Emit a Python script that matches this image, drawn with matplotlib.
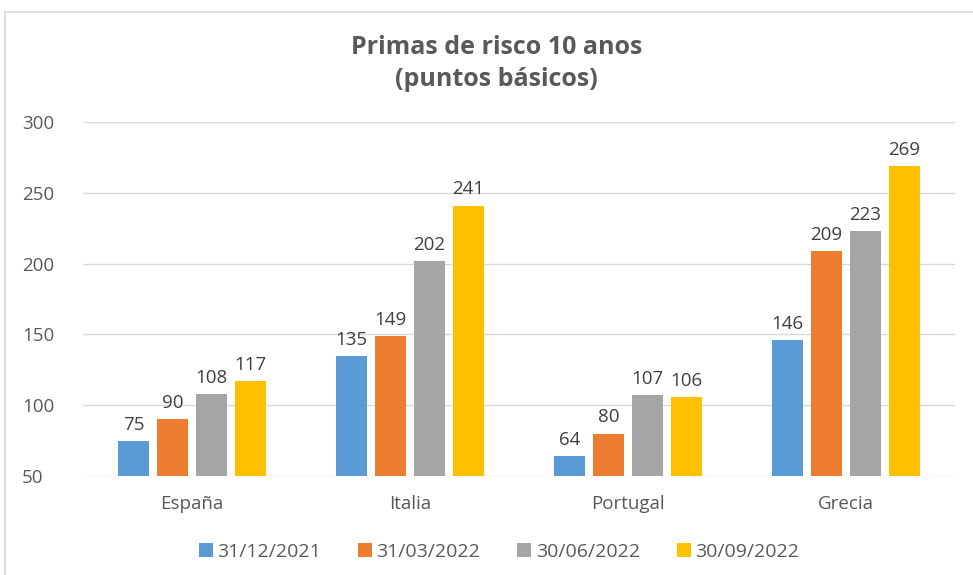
import matplotlib
matplotlib.use('Agg')
import matplotlib.pyplot as plt
import numpy as np
from matplotlib.lines import Line2D

plt.rcParams['font.family'] = ['Open Sans', 'DejaVu Sans']

countries = ['España', 'Italia', 'Portugal', 'Grecia']
dates = ['31/12/2021', '31/03/2022', '30/06/2022', '30/09/2022']
v_dec21 = [75, 135, 64, 146]
v_mar22 = [90, 149, 80, 209]
v_jun22 = [108, 202, 107, 223]
v_sep22 = [117, 241, 106, 269]
colors = ['#5b9bd5', '#ed7d31', '#a5a5a5', '#ffc000']
baseline = 50

series = [v_dec21, v_mar22, v_jun22, v_sep22]

fig = plt.figure(figsize=(9.73, 5.75), dpi=100)
ax = fig.add_axes([0.0853, 0.1722, 0.8962, 0.6157])

x = np.arange(len(countries))
width = 0.142
step = 0.179
for i, (vals, c, lab) in enumerate(zip(series, colors, dates)):
    pos = x + (i - 1.5) * step
    heights = [v - baseline for v in vals]
    ax.bar(pos, heights, width, bottom=baseline, color=c, label=lab, zorder=3)
    for p, v in zip(pos, vals):
        ax.text(p, v + 5, str(v), ha='center', va='bottom', fontsize=13.5, color='#404040')

ax.set_xlim(-0.5, 3.5)
ax.set_ylim(50, 300)
ax.set_yticks(range(50, 301, 50))
ax.yaxis.grid(True, color='#d9d9d9', linewidth=1, zorder=0)
ax.set_axisbelow(True)
for s in ax.spines.values():
    s.set_visible(False)
ax.tick_params(axis='both', length=0, labelsize=13.5, colors='#595959')
ax.tick_params(axis='y', pad=44)
for lbl in ax.get_yticklabels():
    lbl.set_horizontalalignment('left')
ax.set_xticks(x)
ax.set_xticklabels(countries)
ax.tick_params(axis='x', pad=14)

fig.text(0.51, 0.918, 'Primas de risco 10 anos', ha='center', va='center',
         fontsize=18, fontweight='bold', color='#595959')
fig.text(0.51, 0.862, '(puntos básicos)', ha='center', va='center',
         fontsize=18, fontweight='bold', color='#595959')

fig.legend(loc='center', bbox_to_anchor=(0.513, 0.04), ncol=4, frameon=False,
           fontsize=14, handlelength=0.7, handleheight=0.7, handletextpad=0.25,
           columnspacing=1.9, labelcolor='#595959')

fig.add_artist(Line2D([5 / 973, 5 / 973], [0, 1 - 12 / 575], color='#d9d9d9', lw=1.2,
                      transform=fig.transFigure))
fig.add_artist(Line2D([5 / 973, 1], [1 - 12 / 575, 1 - 12 / 575], color='#d9d9d9', lw=1.2,
                      transform=fig.transFigure))

fig.savefig('out.png', dpi=100)
